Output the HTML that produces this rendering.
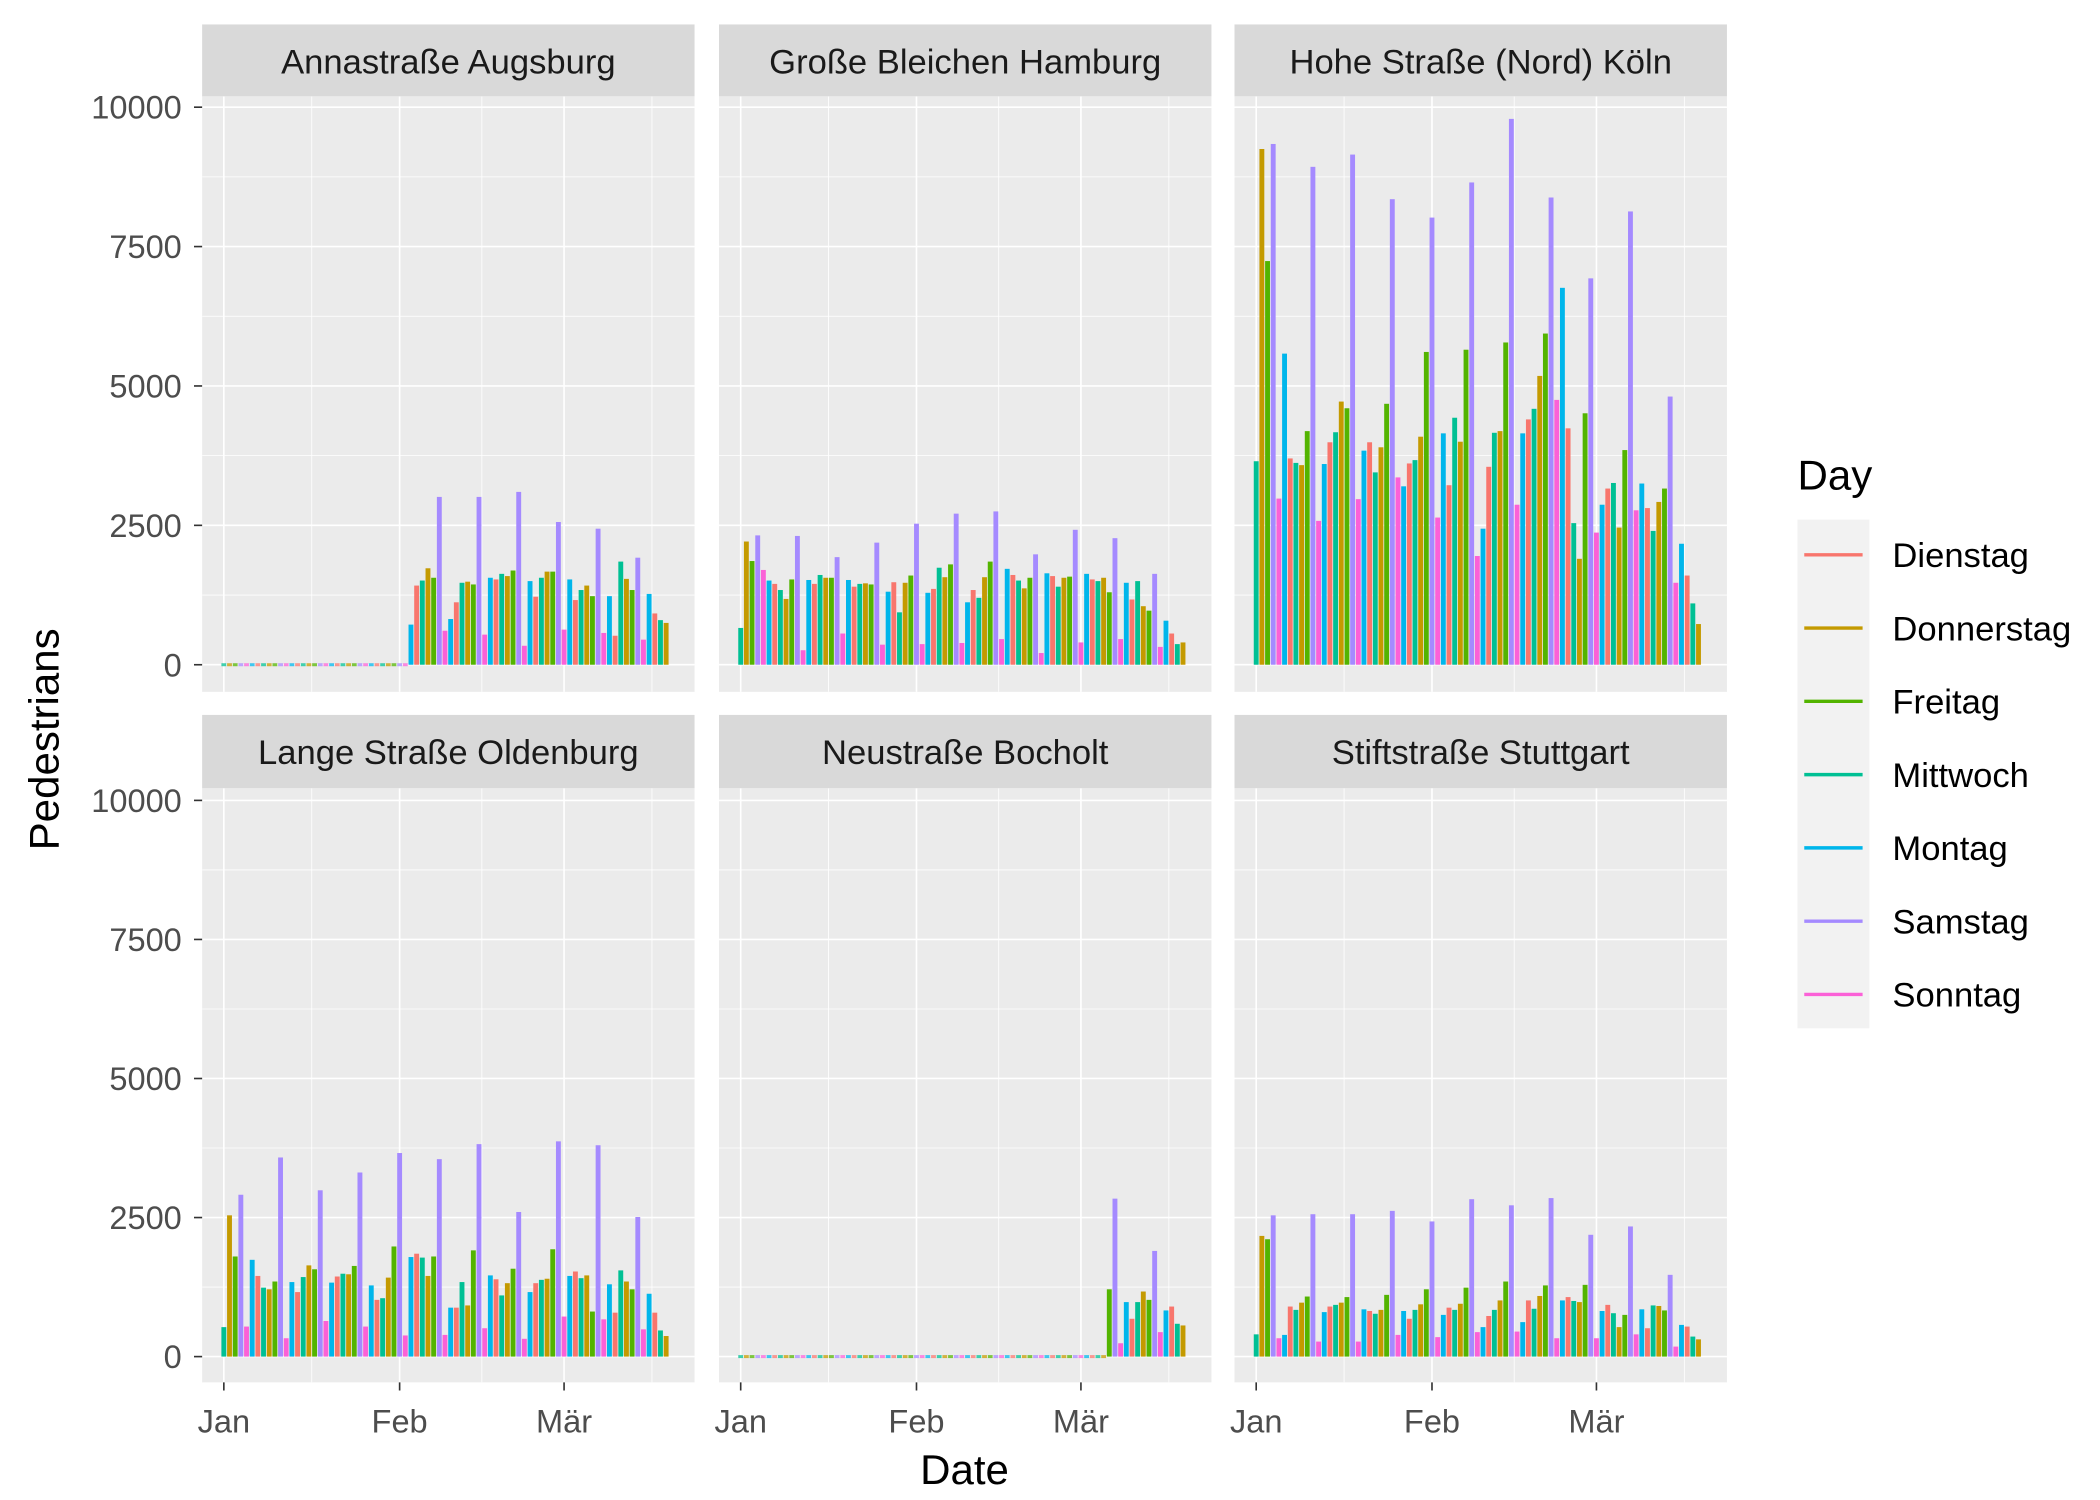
<!DOCTYPE html>
<html><head><meta charset="utf-8">
<style>
html,body{margin:0;padding:0;background:#fff;}
svg{display:block;font-family:"Liberation Sans",Arial,sans-serif;}
</style></head>
<body>
<svg id="chart" width="2100" height="1500" viewBox="0 0 1548 1105.7" xmlns="http://www.w3.org/2000/svg">
<rect x="0" y="0" width="1548" height="1106" fill="#fff"/>
</svg>
<script>
// Weekday of each date starting Jan 1 (Mittwoch)
const weekdays = ["Mittwoch","Donnerstag","Freitag","Samstag","Sonntag","Montag","Dienstag"];
const dayNames = ["Dienstag","Donnerstag","Freitag","Mittwoch","Montag","Samstag","Sonntag"];
const dayColors = ["#F8766D","#C49A00","#53B400","#00C094","#00B6EB","#A58AFF","#FB61D7"];
const panelTitles = ["Annastraße Augsburg","Große Bleichen Hamburg","Hohe Straße (Nord) Köln","Lange Straße Oldenburg","Neustraße Bocholt","Stiftstraße Stuttgart"];
const yTicks = [0,2500,5000,7500,10000];
const yTickLabels = ["0","2500","5000","7500","10000"];
const xTickDays = [0,31,60];
const xTickLabels = ["Jan","Feb","Mär"];

const augsburg = [0,0,0,0,0,0,0,0,0,0,0,0,0,0,0,0,0,0,0,0,0,0,0,0,0,0,0,0,0,0,0,0,0,
720,1420,1510,1730,1560,3010,610,820,1120,1470,1490,1440,3010,540,1560,1530,1630,1590,1690,3100,340,1500,1220,1560,1670,1670,2560,630,1530,1160,1340,1420,1230,2440,570,1230,520,1850,1540,1340,1920,450,1270,920,800,750];
const hamburg = [660,2210,1860,2320,1700,1510,1450,1340,1180,1530,2310,260,1520,1450,1610,1560,1560,1930,560,1520,1400,1450,1460,1440,2190,360,1310,1480,940,1470,1600,
2530,370,1290,1360,1740,1570,1800,2710,390,1120,1340,1200,1570,1850,2750,460,1720,1610,1510,1370,1560,1980,210,1640,1590,1400,1560,1580,2420,
400,1630,1530,1500,1560,1300,2270,460,1470,1170,1500,1050,970,1630,320,790,560,370,400];
const koeln = [3650,9250,7240,9340,2980,5580,3700,3620,3580,4190,8930,2580,3600,3990,4170,4720,4600,9150,2970,3840,3990,3450,3900,4680,8350,3360,3200,3610,3670,4090,5610,
8020,2640,4150,3220,4430,4000,5650,8650,1950,2440,3550,4160,4190,5780,9790,2870,4150,4400,4590,5180,5940,8380,4750,6760,4240,2540,1900,4510,6930,
2370,2870,3160,3260,2460,3850,8130,2770,3250,2810,2400,2920,3160,4810,1470,2170,1600,1100,730];
const oldenburg = [530,2540,1800,2910,540,1740,1450,1240,1210,1350,3580,330,1340,1160,1430,1640,1570,2990,640,1330,1440,1490,1480,1630,3310,540,1280,1020,1050,1420,1980,
3660,380,1790,1850,1780,1450,1800,3550,390,880,880,1340,920,1910,3820,510,1460,1390,1100,1320,1580,2600,320,1160,1320,1380,1400,1930,3870,
720,1450,1530,1410,1460,810,3800,670,1300,790,1550,1350,1210,2510,490,1130,790,470,370];
const bocholt = [0,0,0,0,0,0,0,0,0,0,0,0,0,0,0,0,0,0,0,0,0,0,0,0,0,0,0,0,0,0,0,0,0,0,0,0,0,0,0,0,0,0,0,0,0,0,0,0,0,0,0,0,0,0,0,0,0,0,0,0,0,0,0,0,0,
1210,2840,240,980,680,980,1170,1020,1900,440,830,900,590,560];
const stuttgart = [400,2170,2110,2540,330,390,900,840,970,1080,2560,270,800,900,930,970,1070,2560,270,850,820,770,840,1110,2620,390,820,680,840,940,1210,
2430,350,750,880,840,950,1240,2830,440,530,730,840,1010,1350,2720,450,620,1010,860,1090,1280,2850,330,1010,1070,1000,980,1290,2190,
330,820,930,780,530,750,2340,400,850,510,920,910,830,1470,180,570,540,360,310];
const seriesList = [augsburg,hamburg,koeln,oldenburg,bocholt,stuttgart];

const NS = "http://www.w3.org/2000/svg";
const svg = document.getElementById("chart");
function mk(tag, attrs, parent){
  const e = document.createElementNS(NS, tag);
  for (const k in attrs) e.setAttribute(k, attrs[k]);
  (parent||svg).appendChild(e);
  return e;
}
const colX = [149,530,910];
const panelW = 363;
const rows = [{stripTop:18, top:71, bottom:510, zero:490, scale:0.0411},
              {stripTop:527, top:581, bottom:1019, zero:1000, scale:0.0410}];
function xScale(px, d){ return px + 16 + d*4.18; }
function yScale(row, v){ return row.zero - v*row.scale; }

for (let p = 0; p < 6; p++) {
  const row = rows[Math.floor(p/3)];
  const px = colX[p%3];
  const g = mk("g", {});
  
  
  const bg = mk("rect", {x:px, y:row.top, width:panelW, height:row.bottom-row.top, fill:"#EBEBEB"}, g);
  
  
  for (let i = 0; i < 4; i++) {
    const y = yScale(row, yTicks[i] + 1250);
    mk("line", {x1:px, x2:px+panelW, y1:y, y2:y, stroke:"#fff", "stroke-width":0.6}, g);
  }
  [15.5,45.5,75.5].forEach(d => {
    const x = xScale(px, d);
    mk("line", {x1:x, x2:x, y1:row.top, y2:row.bottom, stroke:"#fff", "stroke-width":0.6}, g);
  });
  yTicks.forEach(t => {
    const y = yScale(row, t);
    mk("line", {x1:px, x2:px+panelW, y1:y, y2:y, stroke:"#fff", "stroke-width":1.2}, g);
  });
  xTickDays.forEach(d => {
    const x = xScale(px, d);
    mk("line", {x1:x, x2:x, y1:row.top, y2:row.bottom, stroke:"#fff", "stroke-width":1.2}, g);
  });
  const vals = seriesList[p];
  for (let d = 0; d < vals.length; d++) {
    const wd = weekdays[d % 7];
    const ci = dayNames.indexOf(wd);
    const x = xScale(px, d);
    const v = vals[d];
    const y0 = yScale(row, 0);
    let y = yScale(row, v);
    let h = y0 - y;
    if (h < 2.2) { y = y0 - 1.1; h = 2.2; }
    const r = mk("rect", {x:x-1.8, y:y, width:3.6, height:h, fill:dayColors[ci], opacity: v===0?0.75:1}, g);
    
    
  }
  const st = mk("rect", {x:px, y:row.stripTop, width:panelW, height:row.top-row.stripTop, fill:"#D9D9D9"}, g);
  
  
  const tt = mk("text", {x:px+panelW/2, y:row.stripTop+36, "text-anchor":"middle", "font-size":25.5, fill:"#1A1A1A"}, g);
  tt.textContent = panelTitles[p];
  
  
  if (p % 3 === 0) {
    yTicks.forEach((t,i) => {
      const y = yScale(row, t);
      mk("line", {x1:px-6, x2:px, y1:y, y2:y, stroke:"#333", "stroke-width":1.2}, g);
      const lt = mk("text", {x:px-15, y:y+8.5, "text-anchor":"end", "font-size":24, fill:"#4D4D4D"}, g);
      lt.textContent = yTickLabels[i];
      
      
    });
  }
  if (p >= 3) {
    xTickDays.forEach((d,i) => {
      const x = xScale(px, d);
      mk("line", {x1:x, x2:x, y1:row.bottom, y2:row.bottom+6, stroke:"#333", "stroke-width":1.2}, g);
      const lt = mk("text", {x:x, y:row.bottom+37, "text-anchor":"middle", "font-size":24, fill:"#4D4D4D"}, g);
      lt.textContent = xTickLabels[i];
      
      
    });
  }
}
const xt = mk("text", {x:711, y:1094, "text-anchor":"middle", "font-size":31, fill:"#000"});
xt.textContent = "Date";


const yt = mk("text", {x:0, y:0, "text-anchor":"middle", "font-size":31, fill:"#000", transform:"translate(43,545) rotate(-90)"});
yt.textContent = "Pedestrians";


const lg = mk("g", {});


const ltitle = mk("text", {x:1325, y:361, "font-size":31, fill:"#000"}, lg);
ltitle.textContent = "Day";


mk("rect", {x:1325, y:383, width:53, height:375, fill:"#F2F2F2"}, lg);
dayNames.forEach((n,i) => {
  const y = 409 + i*54;
  const e = mk("g", {}, lg);
  
  
  mk("line", {x1:1330, x2:1373, y1:y, y2:y, stroke:dayColors[i], "stroke-width":2.5}, e);
  const t = mk("text", {x:1395, y:y+9, "font-size":25.5, fill:"#000"}, e);
  t.textContent = n;
});
</script>
</body></html>
